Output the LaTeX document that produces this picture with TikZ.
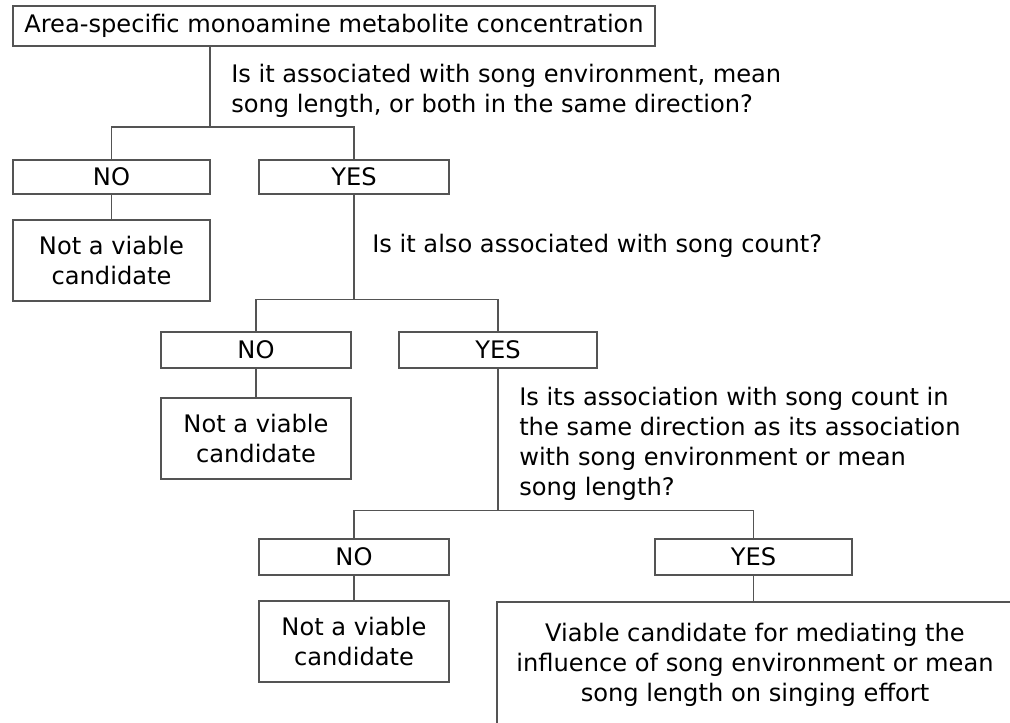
\documentclass[tikz,border=0pt]{standalone}
\usepackage{fontspec}
\setmainfont{DejaVu Sans}
\usepackage{xcolor}

\definecolor{linegray}{rgb}{0.33,0.33,0.33}
\newcommand{\flowfont}{\fontsize{18.1pt}{22.5pt}\selectfont}

\tikzset{
  box/.style={draw=linegray, line width=1.1pt, inner sep=0pt, align=center, font=\flowfont},
  question/.style={inner sep=0pt, anchor=north west, align=left, font=\flowfont},
  link/.style={draw=linegray, line width=1.1pt},
}

\begin{document}
\begin{tikzpicture}[x=0.75pt,y=0.75pt,yscale=-1,xscale=1]
\useasboundingbox (0,0) rectangle (1010,722);
\clip (0,0) rectangle (1010,722);

%Shape: Rectangle [top]
\node[box, minimum width=642*0.75pt, minimum height=40*0.75pt] (area) at (334,26) {Area-specific monoamine metabolite concentration};

% Text Node
\node[question] (q1) at (231,64) {Is it associated with song environment, mean\\song length, or both in the same direction?};

%Shape: Rectangle [first split]
\node[box, minimum width=197*0.75pt, minimum height=34*0.75pt] (no1) at (111.5,177) {NO};
\node[box, minimum width=190*0.75pt, minimum height=34*0.75pt] (yes1) at (354,177) {YES};
\node[box, minimum width=197*0.75pt, minimum height=81*0.75pt] (nv1) at (111.5,260.5) {Not a viable\\candidate};

% Text Node
\node[question] (q2) at (372,234) {Is it also associated with song count?};

%Shape: Rectangle [second split]
\node[box, minimum width=190*0.75pt, minimum height=36*0.75pt] (no2) at (256,350) {NO};
\node[box, minimum width=198*0.75pt, minimum height=36*0.75pt] (yes2) at (498,350) {YES};
\node[box, minimum width=190*0.75pt, minimum height=81*0.75pt] (nv2) at (256,438.5) {Not a viable\\candidate};

% Text Node
\node[question] (q3) at (519,387) {Is its association with song count in\\the same direction as its association\\with song environment or mean\\song length?};

%Shape: Rectangle [third split]
\node[box, minimum width=190*0.75pt, minimum height=36*0.75pt] (no3) at (354,557) {NO};
\node[box, minimum width=197*0.75pt, minimum height=36*0.75pt] (yes3) at (753.5,557) {YES};
\node[box, minimum width=190*0.75pt, minimum height=81*0.75pt] (nv3) at (354,641.5) {Not a viable\\candidate};
\node[box, minimum width=516*0.75pt, minimum height=126*0.75pt] (viable) at (755,665) {Viable candidate for mediating the\\influence of song environment or mean\\song length on singing effort};

% junctions
\coordinate (j1) at (210,127);
\path (yes1.south) ++(0,105) coordinate (j2);
\path (yes2.south) ++(0,142) coordinate (j3);

%Straight Lines
\draw[link] (area.south -| j1) -- (j1);
\draw[link] (no1.north) |- (j1) -| (yes1.north);
\draw[link] (no1) -- (nv1);

\draw[link] (yes1.south) -- (j2);
\draw[link] (no2.north) |- (j2) -| (yes2.north);
\draw[link] (no2) -- (nv2);

\draw[link] (yes2.south) -- (j3);
\draw[link] (no3.north) |- (j3) -| (yes3.north);
\draw[link] (no3) -- (nv3);
\draw[link] (yes3.south) -- (yes3.south |- viable.north);

\end{tikzpicture}
\end{document}
